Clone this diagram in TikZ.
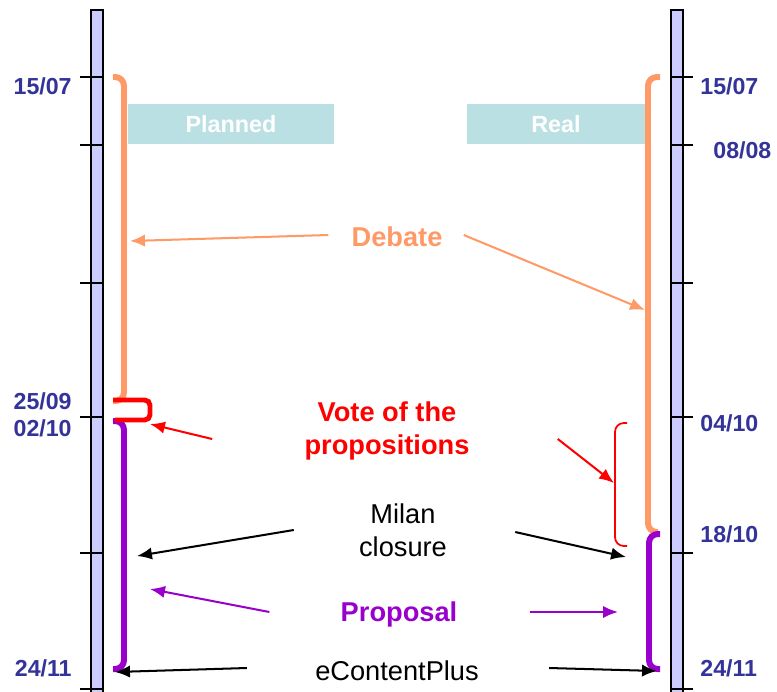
\documentclass[tikz,border=0pt]{standalone}
\usepackage{fontspec}
\setmainfont{Liberation Sans}
\usetikzlibrary{%
  arrows,%
  arrows.meta%
}
\definecolor{datecol}{HTML}{333399}
\definecolor{barcol}{HTML}{CCCCFF}
\definecolor{boxcol}{HTML}{BBE0E3}
\definecolor{debcol}{HTML}{FF9966}
\definecolor{propcol}{HTML}{9900CC}
\tikzset{>={Latex[length=8.5pt,width=7pt]}}

\begin{document}
\begin{tikzpicture}[x=0.02cm,y=-0.02cm,
    lbl/.style={inner sep=0pt,align=center,font=\fontsize{15.5}{19}\selectfont},
    date/.style={inner sep=0pt,text=datecol,font=\fontsize{13.2}{15}\selectfont\bfseries},
    head/.style={fill=boxcol,text=white,inner sep=0pt,minimum height=0.8cm,
      font=\fontsize{13.3}{15}\selectfont\bfseries},
    brack/.style={line width=3.4pt,rounded corners=5pt},
    arr/.style={->,line width=1.15pt}]
    \clip (0,0) rectangle (777,691);
    % time bars
    \draw[fill=barcol,line width=1.2pt] (91,10) rectangle (103,700);
    \draw[fill=barcol,line width=1.2pt] (671,10) rectangle (683,700);
    \foreach \y in {77,145,283,417,553,689} {
      \draw[line width=1.2pt] (80,\y) -- (103,\y);
      \draw[line width=1.2pt] (671,\y) -- (693,\y);
    }
    \node[date,anchor=east] (p1) at (72,86) {15/07};
    \node[date,anchor=east] (p2) at (72,401) {25/09};
    \node[date,anchor=east] (p3) at (72,428) {02/10};
    \node[date,anchor=east] (p4) at (72,668) {24/11};
    \node[date,anchor=west] (r1) at (700,86) {15/07};
    \node[date,anchor=west] (r2) at (713,150) {08/08};
    \node[date,anchor=west] (r3) at (700,423) {04/10};
    \node[date,anchor=west] (r4) at (700,534) {18/10};
    \node[date,anchor=west] (r5) at (700,668) {24/11};
    \node[head,minimum width=4.12cm] (planned) at (231,124) {Planned};
    \node[head,minimum width=3.56cm] (real) at (556,124) {Real};
    % phases
    \draw[brack,debcol] (113,77) -- (124,77) -- (124,401) -- (113,401);
    \draw[brack,propcol] (113,421) -- (124,421) -- (124,669) -- (113,669);
    \draw[red,line width=2.8pt,rounded corners=3pt] (113,400) -- (150,400)
    -- (150,420) -- (115,420);
    \draw[brack,debcol] (660,77) -- (648,77) -- (648,532) -- (658,532);
    \draw[brack,propcol] (660,534) -- (649,534) -- (649,669) -- (660,669);
    \draw[red,line width=1pt,rounded corners=5pt] (627,423) -- (615,423)
    -- (615,546) -- (627,546);
    % labels
    \node[lbl,text=debcol,font=\fontsize{15.5}{19}\selectfont\bfseries] (debate)
    at (397,237) {Debate};
    \node[lbl,text=red,font=\fontsize{15.5}{19}\selectfont\bfseries] (vote)
    at (387,431) {Vote of the\\propositions};
    \node[lbl] (milan) at (403,530) {Milan\\closure};
    \node[lbl,text=propcol,font=\fontsize{15.5}{19}\selectfont\bfseries] (proposal)
    at (399,614) {Proposal};
    \node[lbl] (econtent) at (397,671) {eContentPlus};
    \coordinate (debL) at (130,241);
    \coordinate (debR) at (645,310);
    \coordinate (voteL) at (150,424);
    \coordinate (voteR) at (614,483);
    \coordinate (milL) at (137,556);
    \coordinate (milR) at (626,557);
    \coordinate (propL) at (150,589);
    \coordinate (propR) at (618,612);
    \coordinate (ecL) at (115,672);
    \coordinate (ecR) at (657,671);
    \draw[arr,debcol] ([shift={(-23,-2)}]debate.west) -- (debL);
    \draw[arr,debcol] ([shift={(21,-2)}]debate.east) -- (debR);
    \draw[arr,red] ([shift={(-92,8)}]vote.west) -- (voteL);
    \draw[arr,red] ([shift={(88,8)}]vote.east) -- (voteR);
    \draw[arr] ([shift={(-65,0)}]milan.west) -- (milL);
    \draw[arr] ([shift={(68,2)}]milan.east) -- (milR);
    \draw[arr,propcol] ([shift={(-71,-2)}]proposal.west) -- (propL);
    \draw[arr,propcol] ([shift={(72,-2)}]proposal.east) -- (propR);
    \draw[arr] ([shift={(-68,-3)}]econtent.west) -- (ecL);
    \draw[arr] ([shift={(70,-3)}]econtent.east) -- (ecR);
  \end{tikzpicture}
\end{document}
